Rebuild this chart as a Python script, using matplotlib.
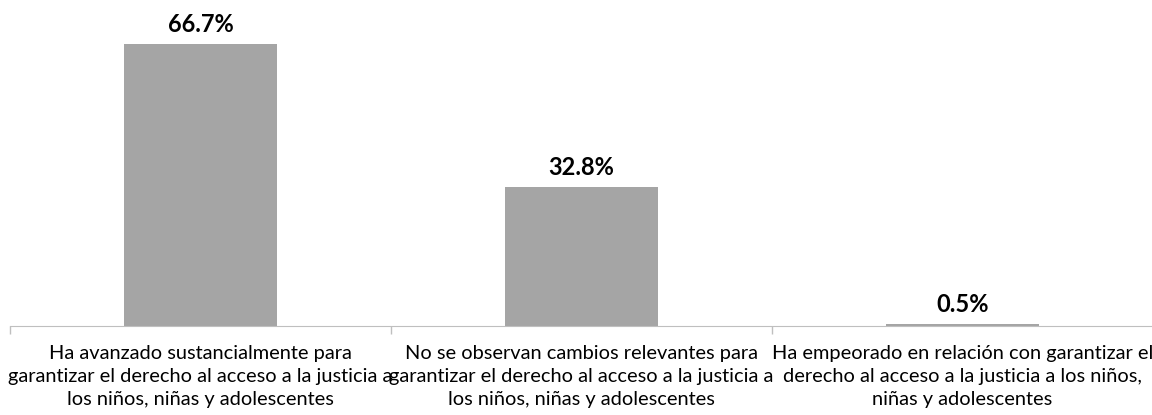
import matplotlib

matplotlib.use("Agg")
import matplotlib.pyplot as plt
import numpy as np

BAR_COLOR = "#a5a5a5"
AXIS_COLOR = "#bfbfbf"

categories = [
    "Ha avanzado sustancialmente para\ngarantizar el derecho al acceso a la justicia a\nlos niños, niñas y adolescentes",
    "No se observan cambios relevantes para\ngarantizar el derecho al acceso a la justicia a\nlos niños, niñas y adolescentes",
    "Ha empeorado en relación con garantizar el\nderecho al acceso a la justicia a los niños,\nniñas y adolescentes",
]
values = [66.7, 32.8, 0.5]
value_labels = ["66.7%", "32.8%", "0.5%"]

plt.rcParams["font.family"] = ["Lato", "DejaVu Sans"]

figure = plt.figure(figsize=(11.52, 4.15), dpi=100)
axis = figure.add_axes([10 / 1152, 1 - 326 / 415, 1143 / 1152, 296 / 415])

positions = np.arange(len(values))
axis.bar(positions, values, width=0.4, color=BAR_COLOR)
for x, v, lab in zip(positions, values, value_labels):
    axis.annotate(lab, (x, v), xytext=(0, 6), textcoords="offset points",
                  ha="center", va="bottom", fontsize=17, fontweight="bold",
                  color="black")

axis.set_xlim(-0.5, 2.5)
axis.set_ylim(0, 70)
axis.set_yticks([])
axis.set_xticks(positions)
axis.set_xticklabels(categories, fontsize=14.4, linespacing=1.42)
axis.tick_params(axis="x", which="major", length=0, pad=14)
axis.set_xticks([-0.5, 0.5, 1.5, 2.5], minor=True)
axis.tick_params(axis="x", which="minor", length=6, color=AXIS_COLOR, width=1)
for side in ["top", "left", "right"]:
    axis.spines[side].set_visible(False)
axis.spines["bottom"].set_color(AXIS_COLOR)

figure.savefig("out.png", dpi=100)
